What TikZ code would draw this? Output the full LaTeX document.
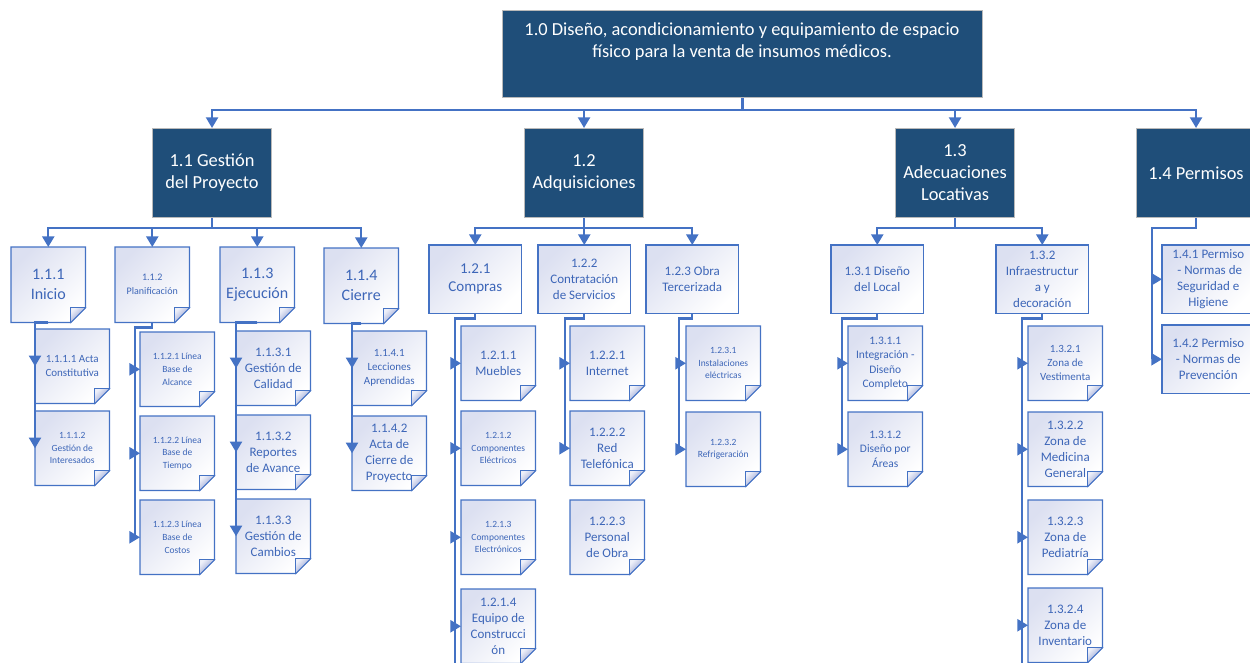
\documentclass[tikz,border=0pt]{standalone}
\usepackage{fontspec}
\setmainfont{Carlito}
\usetikzlibrary{arrows.meta,backgrounds}
\definecolor{dblue}{HTML}{1F4E79}
\definecolor{cblue}{HTML}{4472C4}
\definecolor{tblue}{HTML}{3D66B8}
\definecolor{lav}{HTML}{DCE0F1}
\definecolor{folddark}{HTML}{7F8FC9}
\definecolor{foldlight}{HTML}{EEF0F9}
\tikzset{
  fA/.style={font=\fontsize{13.8pt}{16.5pt}\selectfont},
  fB/.style={font=\fontsize{12pt}{15pt}\selectfont},
  fC/.style={font=\fontsize{11.25pt}{13.5pt}\selectfont},
  fD/.style={font=\fontsize{9.75pt}{12pt}\selectfont},
  fE/.style={font=\fontsize{8.6pt}{10.9pt}\selectfont},
  fF/.style={font=\fontsize{8.25pt}{10.5pt}\selectfont},
  fG/.style={font=\fontsize{7.1pt}{9.4pt}\selectfont},
  conn/.style={draw=cblue, line width=1.7pt, line join=miter,
    -{Triangle[width=9pt,length=8pt]}},
  bar/.style={draw=cblue, line width=1.7pt},
  darkbox/.style={fill=dblue, draw=gray!55, line width=0.8pt, text=white,
    anchor=north west, inner sep=0pt, align=center, fA,
    minimum width=89.25pt, minimum height=66.75pt},
  notebox/.style={anchor=north west, inner sep=0pt, align=center, text=tblue,
    minimum width=55.5pt, minimum height=56.25pt},
  leafbox/.style={anchor=north west, inner sep=0pt, align=center, text=tblue,
    minimum width=55.5pt, minimum height=55.5pt},
  plainbox/.style={anchor=north west, inner sep=0pt, align=center, text=tblue,
    minimum width=69pt, minimum height=51pt},
  bodyfill/.style={draw=cblue, line width=1pt, top color=lav, bottom color=white,
    shading angle=45},
  foldfill/.style={draw=cblue, line width=0.6pt, top color=foldlight,
    bottom color=folddark, shading angle=45},
}
\begin{document}
\begin{tikzpicture}[x=0.75pt,y=-0.75pt]
\useasboundingbox (0,0) rectangle (1250,662);
\clip (0,0) rectangle (1250,662);

% root and first level
\node[darkbox, minimum width=360pt, minimum height=65.25pt] (root) at (502,10) {};
\node[text=white, fA, align=center] (roottext) at (742,42)
  {1.0 Diseño, acondicionamiento y equipamiento de espacio\\físico para la venta de insumos médicos.};
\node[darkbox] (n11) at (152,128) {1.1 Gestión\\del Proyecto};
\node[darkbox] (n12) at (524,128) {1.2\\Adquisiciones};
\node[darkbox] (n13) at (895,128) {1.3\\Adecuaciones\\Locativas};
\node[darkbox] (n14) at (1136,128) {1.4 Permisos};

% second level
\node[notebox, fB] (n111) at (11,247) {1.1.1\\Inicio};
\node[notebox, font=\fontsize{7.5pt}{10.5pt}\selectfont] (n112) at (115,247) {1.1.2\\Planificación};
\node[notebox, fB] (n113) at (220,247) {1.1.3\\Ejecución};
\node[notebox, fB] (n114) at (324,248) {1.1.4\\Cierre};
\node[plainbox, fC] (n121) at (429,245) {1.2.1\\Compras};
\node[plainbox, fD] (n122) at (538,245) {1.2.2\\Contratación\\de Servicios};
\node[plainbox, fD] (n123) at (646,245) {1.2.3 Obra\\Tercerizada};
\node[plainbox, fD] (n131) at (831,245) {1.3.1 Diseño\\del Local};
\node[plainbox, fD] (n132) at (996,245) {1.3.2\\Infraestructur\\a y\\decoración};
\node[plainbox, fD] (n141) at (1162,245) {1.4.1 Permiso\\\ - Normas de\\Seguridad e\\Higiene};
\node[plainbox, fD] (n142) at (1162,325) {1.4.2 Permiso\\- Normas de\\Prevención};

% work packages
\node[leafbox, fF] (n1111) at (35,329) {1.1.1.1 Acta\\Constitutiva};
\node[leafbox, fG] (n1112) at (35,411) {1.1.1.2\\Gestión de\\Interesados};
\node[leafbox, fG] (n1121) at (140,332) {1.1.2.1 Línea\\Base de\\Alcance};
\node[leafbox, fG] (n1122) at (140,416) {1.1.2.2 Línea\\Base de\\Tiempo};
\node[leafbox, fG] (n1123) at (140,500) {1.1.2.3 Línea\\Base de\\Costos};
\node[leafbox, fD] (n1131) at (236,331) {1.1.3.1\\Gestión de\\Calidad};
\node[leafbox, fD] (n1132) at (236,415) {1.1.3.2\\Reportes\\de Avance};
\node[leafbox, fD] (n1133) at (236,499) {1.1.3.3\\Gestión de\\Cambios};
\node[leafbox, fF] (n1141) at (352,331) {1.1.4.1\\Lecciones\\Aprendidas};
\node[leafbox, fD] (n1142) at (352,416) {1.1.4.2\\Acta de\\Cierre de\\Proyecto};
\node[leafbox, fD] (n1211) at (461,326) {1.2.1.1\\Muebles};
\node[leafbox, fG] (n1212) at (461,411) {1.2.1.2\\Componentes\\Eléctricos};
\node[leafbox, fG] (n1213) at (461,500) {1.2.1.3\\Componentes\\Electrónicos};
\node[leafbox, fD] (n1214) at (461,589) {1.2.1.4\\Equipo de\\Construcci\\ón};
\node[leafbox, fD] (n1221) at (570,326) {1.2.2.1\\Internet};
\node[leafbox, fD] (n1222) at (570,411) {1.2.2.2\\Red\\Telefónica};
\node[leafbox, fD] (n1223) at (570,500) {1.2.2.3\\Personal\\de Obra};
\node[leafbox, fG] (n1231) at (686,326) {1.2.3.1\\Instalaciones\\eléctricas};
\node[leafbox, fG] (n1232) at (686,412) {1.2.3.2\\Refrigeración};
\node[leafbox, fE] (n1311) at (848,326) {1.3.1.1\\Integración -\\Diseño\\Completo};
\node[leafbox, fE] (n1312) at (848,412) {1.3.1.2\\Diseño por\\Áreas};
\node[leafbox, fF] (n1321) at (1028,326) {1.3.2.1\\Zona de\\Vestimenta};
\node[leafbox, fD] (n1322) at (1028,412) {1.3.2.2\\Zona de\\Medicina\\General};
\node[leafbox, fD] (n1323) at (1028,500) {1.3.2.3\\Zona de\\Pediatría};
\node[leafbox, fD] (n1324) at (1028,588) {1.3.2.4\\Zona de\\Inventario};

% box bodies behind the texts
\begin{pgfonlayer}{background}
\foreach \n in {n111,n112,n113,n114,n1111,n1112,n1121,n1122,n1123,n1131,n1132,n1133,
                n1141,n1142,n1211,n1212,n1213,n1214,n1221,n1222,n1223,n1231,n1232,
                n1311,n1312,n1321,n1322,n1323,n1324}{
  \shadedraw[bodyfill] (\n.north west) -- (\n.north east) -- ([yshift=11.25pt]\n.south east)
    -- ([xshift=-11.25pt]\n.south east) -- (\n.south west) -- cycle;
  \shadedraw[foldfill] ([xshift=-11.25pt]\n.south east) -- ([yshift=11.25pt]\n.south east)
    -- ([xshift=-11.25pt,yshift=11.25pt]\n.south east) -- cycle;
}
\foreach \n in {n121,n122,n123,n131,n132,n141,n142}{
  \shadedraw[bodyfill] (\n.north west) rectangle (\n.south east);
}
\end{pgfonlayer}

% root to first level
\foreach \c in {n11,n12,n13,n14}{
  \draw[conn] (root.south) -- ++(0,12) -| (\c.north);
}
% first level to second level
\foreach \c in {n111,n112,n113,n114}{ \draw[conn] (n11.south) -- ++(0,10) -| (\c.north); }
\foreach \c in {n121,n122,n123}{ \draw[conn] (n12.south) -- ++(0,10) -| (\c.north); }
\foreach \c in {n131,n132}{ \draw[conn] (n13.south) -- ++(0,10) -| (\c.north); }
\foreach \c in {n141,n142}{
  \draw[conn] (n14.south) -- ++(0,10) -| ([xshift=-7.5pt]\c.west) -- (\c.west);
}

% second level to work packages, running down the left side
\foreach \c in {n1111,n1112}{ \draw[conn] (n111.south) -| (\c.west); }
\foreach \c in {n1131,n1132,n1133}{ \draw[conn] (n113.south) -| (\c.west); }
\foreach \c in {n1141,n1142}{ \draw[conn] (n114.south) -| (\c.west); }

% second level to work packages, entering from the left
\foreach \c in {n1121,n1122,n1123}{
  \draw[conn] (n112.south) -- ++(0,5) -| ([xshift=-3.75pt]\c.west) -- (\c.west); }
\foreach \c in {n1211,n1212,n1213,n1214}{
  \draw[conn] (n121.south) -- ++(0,5) -| ([xshift=-4.5pt]\c.west) -- (\c.west); }
\foreach \c in {n1221,n1222}{
  \draw[conn] (n122.south) -- ++(0,5) -| ([xshift=-3.75pt]\c.west) -- (\c.west); }
\foreach \c in {n1231,n1232}{
  \draw[conn] (n123.south) -- ++(0,5) -| ([xshift=-5.25pt]\c.west) -- (\c.west); }
\foreach \c in {n1311,n1312}{
  \draw[conn] (n131.south) -- ++(0,5) -| ([xshift=-4.5pt]\c.west) -- (\c.west); }
\foreach \c in {n1321,n1322,n1323,n1324}{
  \draw[conn] (n132.south) -- ++(0,5) -| ([xshift=-4.5pt]\c.west) -- (\c.west); }

% branches that carry on below the lower edge
\coordinate (tail121) at (455,670);
\coordinate (tail132) at (1022,670);
\draw[bar] ([xshift=-4.5pt]n1214.west) -- (tail121);
\draw[bar] ([xshift=-4.5pt]n1324.west) -- (tail132);
\end{tikzpicture}
\end{document}
